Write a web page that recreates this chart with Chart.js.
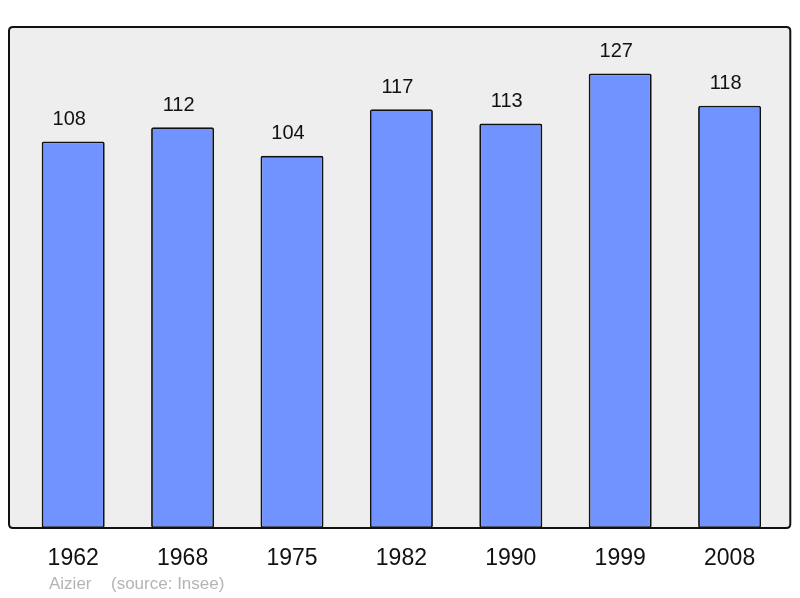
<!DOCTYPE html>
<html>
<head>
<meta charset="utf-8">
<script src="https://cdn.jsdelivr.net/npm/chart.js@4/dist/chart.umd.min.js"></script>
<style>
html,body{margin:0;padding:0;background:#fff;}
#wrap{width:800px;height:598px;position:relative;}
</style>
</head>
<body>
<div id="wrap"><canvas id="c" width="800" height="598"></canvas></div>
<script>
const years = ["1962","1968","1975","1982","1990","1999","2008"];
const population = [108,112,104,117,113,127,118];
const yMax = 140;
const sourceLabel = "Aizier";
const sourceNote = "(source: Insee)";

const FONT = "'Liberation Sans', Arial, sans-serif";

function roundRect(ctx,x,y,w,h,r){
  ctx.beginPath();
  ctx.moveTo(x+r,y);
  ctx.lineTo(x+w-r,y);
  ctx.quadraticCurveTo(x+w,y,x+w,y+r);
  ctx.lineTo(x+w,y+h-r);
  ctx.quadraticCurveTo(x+w,y+h,x+w-r,y+h);
  ctx.lineTo(x+r,y+h);
  ctx.quadraticCurveTo(x,y+h,x,y+h-r);
  ctx.lineTo(x,y+r);
  ctx.quadraticCurveTo(x,y,x+r,y);
  ctx.closePath();
}

const framePlugin = {
  id:'frame',
  beforeDatasetsDraw(chart){
    const {ctx, chartArea:a} = chart;
    ctx.save();
    roundRect(ctx, a.left-9.5, a.top, (a.right+6)-(a.left-9.5), a.bottom-a.top, 4);
    ctx.fillStyle = '#eeeeee';
    ctx.fill();
    ctx.restore();
  },
  afterDatasetsDraw(chart){
    const {ctx, chartArea:a} = chart;
    ctx.save();
    roundRect(ctx, a.left-9.5, a.top, (a.right+6)-(a.left-9.5), a.bottom-a.top, 4);
    ctx.lineWidth = 2;
    ctx.strokeStyle = '#111';
    ctx.stroke();
    // value labels
    const meta = chart.getDatasetMeta(0);
    ctx.fillStyle = '#111';
    ctx.font = "20px " + FONT;
    ctx.textAlign = 'center';
    ctx.textBaseline = 'middle';
    meta.data.forEach((bar,i)=>{
      ctx.fillText(String(population[i]), bar.x - 4, bar.y - 22);
    });
    // source
    ctx.fillStyle = '#b4b4b4';
    ctx.font = "17px " + FONT;
    ctx.textAlign = 'left';
    ctx.fillText(sourceLabel, 49, 584);
    ctx.fillText(sourceNote, 111, 584);
    ctx.restore();
  }
};

new Chart(document.getElementById('c'), {
  type:'bar',
  data:{
    labels: years,
    datasets:[{
      data: population,
      backgroundColor:'#7093ff',
      borderColor:'#111',
      borderWidth:1.8,
      borderSkipped:false,
      borderRadius:2,
      barPercentage:0.576,
      categoryPercentage:1.0
    }]
  },
  options:{
    responsive:false,
    animation:false,
    devicePixelRatio:1,
    layout:{padding:{left:18.5,right:15.7,top:27,bottom:0}},
    plugins:{legend:{display:false},tooltip:{enabled:false},title:{display:false}},
    scales:{
      x:{
        grid:{display:false,drawTicks:false},
        border:{display:false},
        afterFit(scale){ scale.height = 70; },
        ticks:{color:'#111',font:{size:23,family:FONT},padding:17,maxRotation:0}
      },
      y:{display:false,min:0,max:yMax}
    }
  },
  plugins:[framePlugin]
});
</script>
</body>
</html>
